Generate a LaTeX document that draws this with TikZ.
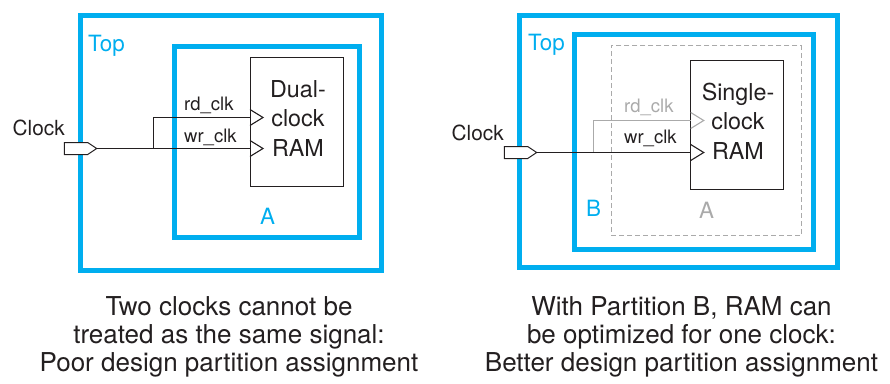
\documentclass[tikz,border=0pt]{standalone}
\usepackage{fontspec}
\setmainfont{TeX Gyre Heros}
\usetikzlibrary{positioning}
\definecolor{partcyan}{RGB}{0,174,239}
\definecolor{ghostgray}{RGB}{170,170,170}
\definecolor{inkblack}{RGB}{35,31,32}

\begin{document}
\begin{tikzpicture}[x=1pt, y=-1pt, color=inkblack,
    partition/.style={draw=partcyan, line width=5pt, inner sep=0pt},
    partlabel/.style={text=partcyan, font=\fontsize{22.4}{26}\selectfont, inner sep=0pt, anchor=base west},
    rambox/.style={draw, line width=1.1pt, inner sep=0pt},
    ramtext/.style={align=center, font=\fontsize{23.3}{29.5}\selectfont, inner sep=0pt},
    signame/.style={font=\fontsize{18.5}{22}\selectfont, inner sep=0pt, anchor=base west},
    pinname/.style={font=\fontsize{20.8}{24}\selectfont, inner sep=0pt, anchor=base east},
    wire/.style={line width=1.1pt},
    port/.style={draw, line width=1pt, fill=white},
    caption/.style={align=center, font=\fontsize{26}{28}\selectfont, inner sep=0pt}]
    \useasboundingbox (0,0) rectangle (890,383);

    % ---------- Left: poor partition ----------
    \node[partition, minimum width=301.5, minimum height=255] (top1) at (231,143.3) {};
    \node[partition, minimum width=185.6, minimum height=190.7] (partA1) at (267,142.2) {};
    \node[rambox, minimum width=93.3, minimum height=128.7] (ram1) at (296.7,121.7) {};
    \node[ramtext] (ram1txt) at (298,118.1) {Dual-\\clock\\RAM};
    \node[partlabel] (top1lbl) at (88,51.5) {Top};
    \node[partlabel] (a1lbl) at (260,224) {A};

    % clock pins and wires
    \coordinate (rd1) at (250,117.5);
    \coordinate (wr1) at (250,148.5);
    \coordinate (clk1) at (96.7,148.5);
    \coordinate (tap1) at (153.5,148.5);
    \draw[wire] (tap1) |- (rd1);
    \draw[wire] (clk1) -- (wr1);
    \draw[wire] ([yshift=8pt]rd1) -- ++(13,8) -- ++(-13,8);
    \draw[wire] ([yshift=8pt]wr1) -- ++(13,8) -- ++(-13,8);
    \draw[port] (clk1) -- ++(-9,-6) -- ++(-23.4,0) -- ++(0,12) -- ++(23.4,0) -- cycle;
    \node[signame] (rd1lbl) at (184,110) {rd\_clk};
    \node[signame] (wr1lbl) at (184,142) {wr\_clk};
    \node[pinname] (clk1lbl) at (65,135) {Clock};

    % ---------- Right: better partition ----------
    \node[partition, minimum width=317.5, minimum height=252] (top2) at (678.7,141.5) {};
    \node[partition, minimum width=239.5, minimum height=215] (partB2) at (694.2,142.3) {};
    \node[draw=ghostgray, line width=1pt, dash pattern=on 5pt off 3pt, inner sep=0pt,
          minimum width=190, minimum height=190.3] (partA2) at (706,140.8) {};
    \node[rambox, minimum width=92.6, minimum height=129.3] (ram2) at (737,124.7) {};
    \node[ramtext] (ram2txt) at (738,121.1) {Single-\\clock\\RAM};
    \node[partlabel] (top2lbl) at (528,50) {Top};
    \node[partlabel] (b2lbl) at (586,216) {B};
    \node[partlabel, text=ghostgray] (a2lbl) at (699,218) {A};

    % clock pins and wires
    \coordinate (rd2) at (690.7,120.5);
    \coordinate (wr2) at (690.7,152.5);
    \coordinate (clk2) at (536.7,152.5);
    \coordinate (tap2) at (593.5,152.5);
    \draw[wire, ghostgray] (tap2) |- (rd2);
    \draw[wire, ghostgray] ([yshift=8pt]rd2) -- ++(13,8) -- ++(-13,8);
    \draw[wire] (clk2) -- (wr2);
    \draw[wire] ([yshift=8pt]wr2) -- ++(13,8) -- ++(-13,8);
    \draw[port] (clk2) -- ++(-9,-6) -- ++(-23.4,0) -- ++(0,12) -- ++(23.4,0) -- cycle;
    \node[signame, text=ghostgray] (rd2lbl) at (624,112) {rd\_clk};
    \node[signame] (wr2lbl) at (624,143) {wr\_clk};
    \node[pinname] (clk2lbl) at (504,140) {Clock};

    % ---------- Captions ----------
    \node[caption] (cap1) at (229,336.4) {Two clocks cannot be\\treated as the same signal:\\Poor design partition assignment};
    \node[caption] (cap2) at (681.5,336.4) {With Partition B, RAM can\\be optimized for one clock:\\Better design partition assignment};
\end{tikzpicture}
\end{document}
